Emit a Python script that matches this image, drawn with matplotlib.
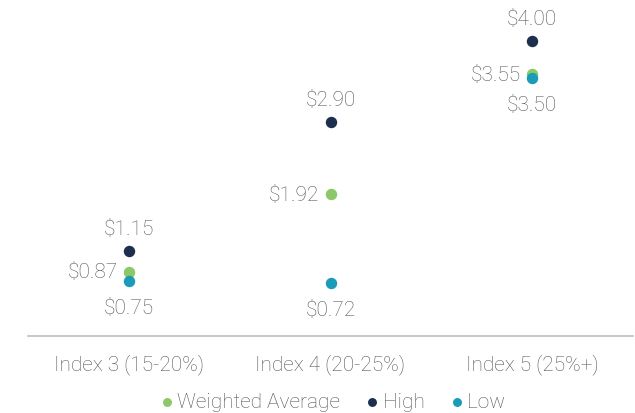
import numpy as np
import matplotlib
matplotlib.use("Agg")
import matplotlib.pyplot as plt

plt.rcParams["font.family"] = ["Roboto", "DejaVu Sans"]

categories = ["Index 3 (15-20%)", "Index 4 (20-25%)", "Index 5 (25%+)"]
weighted_avg = [0.87, 1.92, 3.55]
high = [1.15, 2.90, 4.00]
low = [0.75, 0.72, 3.50]

GREEN = "#8cc867"
NAVY = "#1c2f4d"
TEAL = "#1a9bb8"
TEXT = "#555555"
FS = 15

fig = plt.figure(figsize=(6.35, 4.14), dpi=100)
ax = fig.add_axes([28 / 635, (414 - 337) / 414, 605 / 635, 337 / 414])

x = np.arange(len(categories))
ax.scatter(x, high, s=52, color=NAVY, zorder=3, label="High")
ax.scatter(x, low, s=52, color=TEAL, zorder=3, label="Low")
ax.scatter(x, weighted_avg, s=52, color=GREEN, zorder=2, label="Weighted Average")

kw = dict(fontsize=FS, color=TEXT, fontweight="light")
for i in range(len(categories)):
    ax.annotate(f"${high[i]:.2f}", (x[i], high[i]), xytext=(0, 16.5),
                textcoords="offset points", ha="center", va="center", **kw)
    ax.annotate(f"${low[i]:.2f}", (x[i], low[i]), xytext=(0, -19.5),
                textcoords="offset points", ha="center", va="center", **kw)
    ax.annotate(f"${weighted_avg[i]:.2f}", (x[i], weighted_avg[i]), xytext=(-8, 0),
                textcoords="offset points", ha="right", va="center", **kw)

ax.set_xlim(-0.5, 2.5)
ax.set_ylim(0, 4.57)
ax.set_xticks(x)
ax.set_xticklabels(categories, fontsize=FS, color=TEXT, fontweight="light")
ax.tick_params(axis="x", length=0, pad=12)
ax.set_yticks([])
for s in ["top", "right", "left"]:
    ax.spines[s].set_visible(False)
ax.spines["bottom"].set_color("#bfbfbf")
ax.spines["bottom"].set_linewidth(1.2)

handles, labels = ax.get_legend_handles_labels()
order = [2, 0, 1]
leg = fig.legend([handles[i] for i in order], [labels[i] for i in order],
                 loc="center", bbox_to_anchor=(0.525, 1 - 403 / 414), ncol=3,
                 frameon=False, handlelength=0.5, handletextpad=0.25,
                 columnspacing=1.3, markerscale=0.75,
                 prop={"size": FS, "weight": "light"})
for t in leg.get_texts():
    t.set_color(TEXT)

fig.savefig("out.png", dpi=100)
